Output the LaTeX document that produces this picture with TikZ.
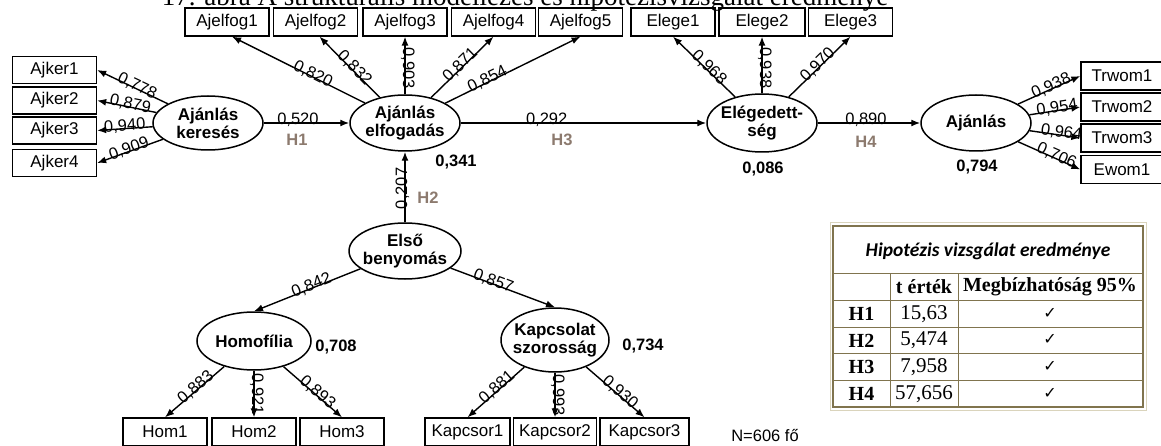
\documentclass[tikz,border=0pt]{standalone}
\usepackage{fontspec}
\setmainfont{Liberation Sans}
\newfontfamily\seriffont{Liberation Serif}
\newfontfamily\califont{Carlito}
\newfontfamily\symfont{DejaVu Sans}
\usetikzlibrary{arrows.meta,shapes.geometric}
\definecolor{hcol}{RGB}{140,122,110}
\definecolor{tcol}{RGB}{128,116,78}
\definecolor{tlight}{RGB}{218,212,188}
\begin{document}
\begin{tikzpicture}[x=1pt,y=-1pt,
  box/.style={draw, line width=1.3pt, minimum width=84pt, minimum height=27pt, inner sep=0pt, font=\fontsize{17}{18}\selectfont},
  lat/.style={draw, ellipse, line width=1.5pt, inner xsep=-6pt, inner ysep=0pt, align=center, font=\bfseries\fontsize{17}{18}\selectfont},
  arr/.style={line width=1.4pt, -{Latex[length=9pt,width=7pt]}},
  lbl/.style={sloped, anchor=south, inner sep=0pt, outer ysep=-2pt, text depth=0pt, font=\fontsize{16.5}{16.5}\selectfont},
  vlbl/.style={rotate=-90, anchor=south, inner sep=0pt, outer ysep=-2pt, text depth=0pt, font=\fontsize{16.5}{16.5}\selectfont},
  ulbl/.style={rotate=90, anchor=south, inner sep=0pt, outer ysep=-2pt, text depth=0pt, font=\fontsize{16.5}{16.5}\selectfont},
  hl/.style={font=\bfseries\fontsize{16.5}{16.5}\selectfont, text=hcol},
  r2/.style={font=\bfseries\fontsize{16.5}{16.5}\selectfont},
  tb/.style={draw=tcol, line width=1.3pt},
  tbi/.style={draw=tcol, line width=1pt},
  th/.style={font=\seriffont\bfseries\fontsize{20}{20}\selectfont},
  tn/.style={font=\seriffont\fontsize{21}{21}\selectfont},
  tk/.style={font=\symfont\fontsize{16}{16}\selectfont},
]
\useasboundingbox (0,0) rectangle (1161,446);
\clip (0,0) rectangle (1161,446);

% title (cut at top)
\node[font=\seriffont\fontsize{27}{27}\selectfont, anchor=base, inner sep=0pt] (title) at (525,6) {17. ábra A strukturális modellezés és hipotézisvizsgálat eredménye};

% latent variables
\node[lat, minimum width=110pt, minimum height=54pt] (ker) at (208,123) {Ajánlás\\keresés};
\node[lat, minimum width=110pt, minimum height=56pt] (elf) at (405,123) {Ajánlás\\elfogadás};
\node[lat, minimum width=110pt, minimum height=58pt] (ele) at (762,123) {Elégedett-\\ség};
\node[lat, minimum width=110pt, minimum height=56pt] (ajn) at (976,123) {Ajánlás};
\node[lat, minimum width=112pt, minimum height=56pt] (els) at (405,251) {Első\\benyomás};
\node[lat, minimum width=114pt, minimum height=58pt] (hom) at (254,341) {Homofília};
\node[lat, minimum width=108pt, minimum height=64pt] (kap) at (555,340) {Kapcsolat\\szorosság};

% indicator boxes
\node[box] (ak1) at (54.5,70) {Ajker1};
\node[box] (ak2) at (54.5,100.5) {Ajker2};
\node[box] (ak3) at (54.5,130.5) {Ajker3};
\node[box] (ak4) at (54.5,163) {Ajker4};

\node[box, minimum height=28pt] (af1) at (227,22) {Ajelfog1};
\node[box, minimum height=28pt] (af2) at (315.5,22) {Ajelfog2};
\node[box, minimum height=28pt] (af3) at (405,22) {Ajelfog3};
\node[box, minimum height=28pt] (af4) at (493.5,22) {Ajelfog4};
\node[box, minimum height=28pt] (af5) at (580.5,22) {Ajelfog5};
\node[box, minimum height=28pt] (eg1) at (673,22) {Elege1};
\node[box, minimum height=28pt, minimum width=86pt] (eg2) at (762,22) {Elege2};
\node[box, minimum height=28pt] (eg3) at (850.5,22) {Elege3};

\node[box, minimum height=28pt, minimum width=82pt] (tw1) at (1122,76) {Trwom1};
\node[box, minimum height=28pt, minimum width=82pt] (tw2) at (1122,107) {Trwom2};
\node[box, minimum height=28pt, minimum width=82pt] (tw3) at (1122,138) {Trwom3};
\node[box, minimum height=28pt, minimum width=82pt] (ew1) at (1122,169.5) {Ewom1};

\node[box, minimum height=28pt] (h1) at (165,432) {Hom1};
\node[box, minimum height=28pt] (h2) at (254,432) {Hom2};
\node[box, minimum height=28pt] (h3) at (342,432) {Hom3};
\node[box, minimum height=28pt, minimum width=85pt] (k1) at (467.5,432) {Kapcsor1};
\node[box, minimum height=28pt, minimum width=83pt] (k2) at (555,432) {Kapcsor2};
\node[box, minimum height=28pt, minimum width=89pt] (k3) at (644.5,432) {Kapcsor3};

% structural paths
\draw[arr] (ker) -- (elf) node[lbl, pos=0.4] {0,520};
\draw[arr] (elf) -- (ele) node[lbl, pos=0.35] {0,292};
\draw[arr] (ele) -- (ajn) node[lbl, pos=0.47] {0,890};
\draw[arr] (els) -- (elf) node[ulbl, pos=0.48] {0,207};

\node[hl] (hh1) at (297,140) {H1};
\node[hl] (hh2) at (428,198) {H2};
\node[hl] (hh3) at (562,140) {H3};
\node[hl] (hh4) at (866,142) {H4};

% R2 values
\node[r2] (r2elf) at (456,162) {0,341};
\node[r2] (r2ele) at (763,169) {0,086};
\node[r2] (r2ajn) at (977,167) {0,794};
\node[r2] (r2hom) at (336,347) {0,708};
\node[r2] (r2kap) at (643,346) {0,734};

% Ajanlas kereses loadings
\draw[arr] (ker) -- (ak1.east) node[lbl, pos=0.45] {0,778};
\draw[arr] (ker) -- (ak2.east) node[lbl, pos=0.45] {0,879};
\draw[arr] (ker) -- (ak3.east) node[lbl, pos=0.5] {0,940};
\draw[arr] (ker) -- (ak4.east) node[lbl, pos=0.5] {0,909};

% Ajanlas elfogadas loadings
\draw[arr] (elf) -- ([xshift=5pt]af1.south) node[lbl, pos=0.4] {0,820};
\draw[arr] (elf) -- ([xshift=4pt]af2.south) node[lbl, pos=0.45] {0,832};
\draw[arr] (elf.north) -- (af3.south) node[vlbl, pos=0.45] {0,903};
\draw[arr] (elf) -- (af4.south) node[lbl, pos=0.5] {0,871};
\draw[arr] (elf) -- (af5.south) node[lbl, pos=0.32] {0,854};

% Elegedettseg loadings
\draw[arr] (ele) -- (eg1.south) node[lbl, pos=0.45] {0,968};
\draw[arr] (ele.north) -- (eg2.south) node[vlbl, pos=0.45] {0,938};
\draw[arr] (ele) -- (eg3.south) node[lbl, pos=0.5] {0,970};

% Ajanlas loadings
\draw[arr] (ajn) -- (tw1.west) node[lbl, pos=0.55] {0,938};
\draw[arr] (ajn) -- (tw2.west) node[lbl, pos=0.55] {0,954};
\draw[arr] (ajn) -- (tw3.west) node[lbl, pos=0.62] {0,964};
\draw[arr] (ajn) -- (ew1.west) node[lbl, pos=0.6] {0,706};

% Elso benyomas
\draw[arr] (els) -- (hom.north) node[lbl, pos=0.45] {0,842};
\draw[arr] (els) -- (kap.north) node[lbl, pos=0.4] {0,857};

% Homofilia loadings
\draw[arr] (hom) -- (h1.north) node[lbl, pos=0.45] {0,883};
\draw[arr] (hom.south) -- (h2.north) node[vlbl, pos=0.5] {0,921};
\draw[arr] (hom) -- (h3.north) node[lbl, pos=0.55] {0,893};

% Kapcsolat loadings
\draw[arr] (kap) -- (k1.north) node[lbl, pos=0.45] {0,881};
\draw[arr] (kap.south) -- (k2.north) node[vlbl, pos=0.5] {0,993};
\draw[arr] (kap) -- (k3.north) node[lbl, pos=0.55] {0,930};

\node[font=\fontsize{16.5}{16.5}\selectfont] (nn) at (765,436) {N=606 fő};

% table
\draw[tlight, line width=1pt] (830,223) rectangle (1146,410);
\draw[tb] (833,226) rectangle (1143,407);
\draw[tbi] (833,273) -- (1143,273);
\draw[tbi] (833,300) -- (1143,300);
\draw[tbi] (833,327) -- (1143,327);
\draw[tbi] (833,353) -- (1143,353);
\draw[tbi] (833,380) -- (1143,380);
\draw[tbi] (890,273) -- (890,407);
\draw[tbi] (958,273) -- (958,407);
\node[font=\califont\bfseries\itshape\fontsize{19.5}{19.5}\selectfont] (ttl) at (988,251) {Hipotézis vizsgálat eredménye};
\node[th] (tcol1) at (924,287) {t érték};
\node[th] (tcol2) at (1050,287) {Megbízhatóság 95\%};
\node[th] (th1) at (861.5,314) {H1};
\node[th] (th2) at (861.5,340.5) {H2};
\node[th] (th3) at (861.5,367) {H3};
\node[th] (th4) at (861.5,394) {H4};
\node[tn] (tv1) at (924,314) {15,63};
\node[tn] (tv2) at (924,340.5) {5,474};
\node[tn] (tv3) at (924,367) {7,958};
\node[tn] (tv4) at (924,394) {57,656};
\node[tk] (tc1) at (1050,313) {✓};
\node[tk] (tc2) at (1050,339.5) {✓};
\node[tk] (tc3) at (1050,366) {✓};
\node[tk] (tc4) at (1050,393) {✓};
\end{tikzpicture}
\end{document}
